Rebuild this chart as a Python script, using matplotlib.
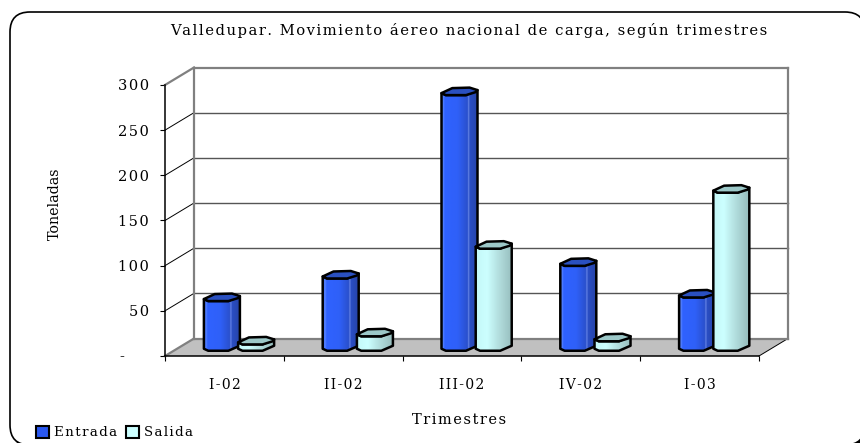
import matplotlib
matplotlib.use("Agg")
import matplotlib.pyplot as plt
import numpy as np
from matplotlib.colors import LinearSegmentedColormap
from matplotlib.patches import FancyBboxPatch, Patch, Polygon
from matplotlib.transforms import ScaledTranslation

plt.rcParams["font.family"] = ["DejaVu Serif"]

# data
trimestres = ["I-02", "II-02", "III-02", "IV-02", "I-03"]
entrada = [55, 80, 283, 94, 59]
salida = [7, 16, 113, 10.5, 175]
y_ticks = [0, 50, 100, 150, 200, 250, 300]
y_labels = ["-", "50", "100", "150", "200", "250", "300"]


# the original has wide letter spacing, matplotlib has no tracking option
def track(s):
    return "\u200a".join(s)


W, H = 860, 443
fig = plt.figure(figsize=(W / 100, H / 100), dpi=100)

# rounded frame, runs off the right and bottom edge
bg = fig.add_axes([0, 0, 1, 1], zorder=0)
bg.set_xlim(0, W)
bg.set_ylim(H, 0)
bg.axis("off")
bg.add_patch(FancyBboxPatch((34, 36), 815, 393, boxstyle="round,pad=20,rounding_size=20", fc="black", ec="black", lw=1.2))
bg.add_patch(FancyBboxPatch((30, 32), 815, 393, boxstyle="round,pad=20,rounding_size=20", fc="white", ec="black", lw=1.2))

# front plane of the plot
ax = fig.add_axes([165 / W, 1 - 356 / H, 594 / W, 271 / H], zorder=1)
ax.patch.set_alpha(0)
ax.set_xlim(0, len(trimestres))
ax.set_ylim(0, 300)

depth_x = 29 / 118.8
depth_y = 17.5 / 271 * 300
bar_w = 36 / 118.8

# floor and walls
ax.add_patch(Polygon([(0, 0), (5, 0), (5 + depth_x, depth_y), (depth_x, depth_y)], fc="#c0c0c0", ec="none", clip_on=False, zorder=1))
ax.plot([5, 5 + depth_x], [0, depth_y], color="black", lw=0.7, clip_on=False, zorder=1.5)
for v in y_ticks:
    edge = v in (0, 300)
    ax.plot([depth_x, 5 + depth_x], [v + depth_y] * 2, color="#808080" if edge else "#555555", lw=1.6 if edge else 1.0, clip_on=False, zorder=2)
    ax.plot([0, depth_x], [v, v + depth_y], color="#808080" if edge else "black", lw=1.6 if edge else 0.7, clip_on=False, zorder=2)
for xw in (depth_x, 5 + depth_x):
    ax.plot([xw, xw], [depth_y, 300 + depth_y], color="#808080", lw=1.6, clip_on=False, zorder=2)

blue = LinearSegmentedColormap.from_list("blue", [(0, "#2a58f0"), (0.05, "#5a86ff"), (0.1, "#2f62ff"), (0.45, "#2f60f8"), (0.72, "#2a50cc"), (0.75, "#6a88e8"), (0.78, "#2a4ec4"), (1, "#2644a8")])
cyan = LinearSegmentedColormap.from_list("cyan", [(0, "#c4f8f8"), (0.3, "#ccffff"), (0.6, "#b4e0e0"), (1, "#96bcbc")])
grad = np.linspace(0, 1, 200).reshape(1, -1)

# outline of the low-poly cylinder, fractions of width / px above centre
top_fx = [0, 0.3, 0.78, 1, 0.95, 0.68, 0.12]
top_dy = [-1.5, 3.5, 4, 1.5, -0.5, -3.5, -3.5]
PX = 300 / 271


def draw_bar(left, val, cmap, top_color, z):
    base = depth_y / 2
    top = base + val
    body = [(left, top - 1.5 * PX), (left, base - 1.5 * PX), (left + 0.12 * bar_w, base - 3.5 * PX),
            (left + 0.68 * bar_w, base - 3.5 * PX), (left + bar_w, base + 1.5 * PX), (left + bar_w, top + 1.5 * PX),
            (left + 0.68 * bar_w, top - 3.5 * PX), (left + 0.12 * bar_w, top - 3.5 * PX)]
    poly = Polygon(body, fc="none", ec="none", transform=ax.transData)
    ax.add_patch(poly)
    im = ax.imshow(grad, cmap=cmap, extent=(left, left + bar_w, base - 5, top + 5), aspect="auto", zorder=z)
    im.set_clip_path(poly)
    ax.add_patch(Polygon(body, fc="none", ec="black", lw=1.8, joinstyle="round", clip_on=False, zorder=z + 0.1))
    cap = [(left + fx * bar_w, top + dy * PX) for fx, dy in zip(top_fx, top_dy)]
    ax.add_patch(Polygon(cap, fc=top_color, ec="black", lw=1.8, joinstyle="round", clip_on=False, zorder=z + 0.2))


for i in range(len(trimestres)):
    mid = i + 0.5 + depth_x / 2 + 1 / 118.8
    draw_bar(mid - bar_w, entrada[i], blue, "#2a50c0", 3 + i)
    draw_bar(mid - 0.015, salida[i], cyan, "#9cc8c8", 3.5 + i)

ax.set_xlim(0, len(trimestres))
ax.set_ylim(0, 300)

for s in ("top", "right"):
    ax.spines[s].set_visible(False)
for s in ("left", "bottom"):
    ax.spines[s].set_linewidth(1.1)
    ax.spines[s].set_zorder(20)

ax.set_yticks(y_ticks)
ax.set_yticklabels([track(t) for t in y_labels], fontsize=10.5)
ax.tick_params(axis="y", length=3.6, width=0.8, pad=8)
# the dash for zero sits further left than the numbers
dash = ax.get_yticklabels()[0]
dash.set_transform(dash.get_transform() + ScaledTranslation(-0.25, 0, fig.dpi_scale_trans))
ax.set_xticks(range(len(trimestres) + 1))
ax.set_xticklabels([])
ax.tick_params(axis="x", length=3.6, width=0.8)
ax.set_xticks(np.arange(len(trimestres)) + 0.5, minor=True)
ax.set_xticklabels([track(t) for t in trimestres], minor=True, fontsize=10)
ax.tick_params(axis="x", which="minor", length=0, pad=16)

fig.text(469 / W, 1 - 30 / H, track("Valledupar. Movimiento áereo nacional de carga, según trimestres"), ha="center", va="center", fontsize=10.6)
fig.text(55 / W, 1 - 204 / H, "Toneladas", rotation=90, ha="center", va="center", fontsize=10.3)
fig.text(459 / W, 1 - 420 / H, track("Trimestres"), ha="center", va="center", fontsize=10.5)

handles = [Patch(fc="#2a58f0", ec="black", lw=1.5, label=track("Entrada")), Patch(fc="#ccffff", ec="black", lw=1.5, label=track("Salida"))]
fig.legend(handles=handles, loc="lower left", bbox_to_anchor=(29 / W, -3 / H), ncol=2, frameon=False, fontsize=9.6,
           handlelength=1.0, handleheight=1.0, handletextpad=0.35, columnspacing=0.7, borderpad=0.3, borderaxespad=0.2)

fig.savefig("out.png", dpi=100)
